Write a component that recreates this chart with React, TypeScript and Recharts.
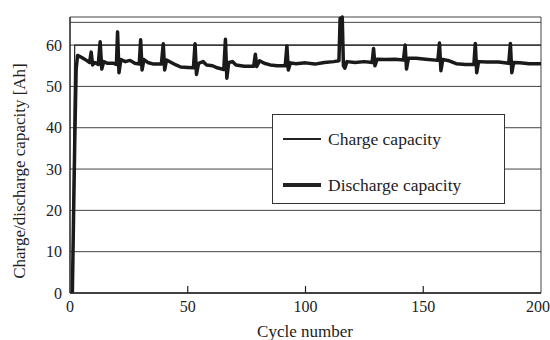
import {
  LineChart,
  Line,
  XAxis,
  YAxis,
  CartesianGrid,
  ReferenceLine,
  Legend,
} from "recharts";

const FONT = "'Liberation Serif', 'DejaVu Serif', 'Noto Serif', Tinos, serif";
const INK = "#222";

const xTicks = [0, 50, 100, 150, 200];
const yTicks = [0, 10, 20, 30, 40, 50, 60];

// charge capacity sits flat at the rated 60 Ah once cycling starts
const chargeCycles = [1, 2, 25, 50, 75, 100, 125, 150, 175, 200];
const chargeValues = [0, 60, 60, 60, 60, 60, 60, 60, 60, 60];

const dischargeCycles = [
  1, 2, 2.6, 3.2, 5, 7, 8.3, 9, 9.6, 10.5, 12, 12.8, 13.5, 14.3, 16, 18.5,
  19.7, 20.2, 20.8, 21.6, 23.5, 25.5, 27.5, 29.4, 30, 30.6, 31.4, 33, 35.5,
  38.8, 39.6, 40.2, 41, 43, 45, 47, 50, 52.4, 53.1, 53.7, 54.6, 56.5, 58, 60.5,
  62.5, 65.3, 66, 66.6, 67.4, 69, 70.5, 74, 78, 78.7, 79.3, 80.5, 82.5, 85, 88,
  91.4, 92.1, 92.7, 93.6, 96, 100, 104, 108, 112, 114.2, 114.7, 115.2, 115.6,
  116.1, 116.7, 117.6, 121, 125, 128.3, 128.9, 129.5, 130.4, 134, 138, 141.6,
  142.3, 142.9, 143.7, 147, 151, 156.2, 156.9, 157.5, 158.3, 161, 164, 168,
  171.5, 172.1, 172.7, 173.5, 177, 182, 186.3, 187, 187.6, 188.4, 191, 195, 200,
];
const dischargeValues = [
  0, 36, 54, 57.5, 57, 56.3, 55.8, 58.3, 55.2, 55.8, 55.3, 60.8, 54.2, 56, 55.6,
  55.6, 55.3, 63.2, 53.3, 56.5, 56, 56.3, 55.6, 55.4, 61.3, 54, 56.5, 55.8,
  55.4, 55.4, 60.3, 54, 56.4, 55.8, 55.2, 54.7, 54.6, 54.5, 60.3, 52.9, 55.6,
  56, 55.2, 55, 54.5, 54.1, 61.4, 52, 55.8, 56, 55.2, 54.9, 54.9, 57.8, 54.8,
  56.2, 55.6, 55.2, 55, 55, 59.8, 54, 55.7, 55.5, 55.7, 55.4, 55.8, 56, 56.2,
  66.5, 64, 66.8, 55, 54.4, 56, 55.8, 56, 55.8, 59.2, 55, 56.6, 56.5, 56.6,
  56.4, 60, 54.2, 56.8, 56.8, 56.6, 56.3, 60.5, 53.8, 56.5, 56.2, 55.5, 55.3,
  55.3, 60.4, 53.3, 56, 55.9, 55.9, 55.6, 60.4, 53.3, 55.8, 55.7, 55.5, 55.5,
];

const chargeData = chargeCycles.map((cycle, i) => ({ cycle, value: chargeValues[i] }));
const dischargeData = dischargeCycles.map((cycle, i) => ({
  cycle,
  value: dischargeValues[i],
}));

const legendItems = [
  { name: "Charge capacity", width: 1.2 },
  { name: "Discharge capacity", width: 3.5 },
];

function CycleTick(props: any) {
  const { x, y, payload } = props;
  const v = payload.value;
  return (
    <g>
      {v > 0 && v < 200 && (
        <line x1={x} x2={x} y1={y} y2={y - 7} stroke={INK} strokeWidth={1.2} />
      )}
      <text x={x} y={y + 19} textAnchor="middle" style={{ fontFamily: FONT }} fontSize={16} fill={INK}>
        {v}
      </text>
    </g>
  );
}

function LegendBox() {
  return (
    <div
      style={{
        width: 233,
        height: 90,
        border: "1px solid #333",
        background: "#fff",
        fontFamily: FONT,
        fontSize: 17.5,
        color: INK,
        boxSizing: "border-box",
        position: "relative",
      }}
    >
      {legendItems.map((item, i) => (
        <div
          key={item.name}
          style={{
            position: "absolute",
            left: 10,
            top: 24 + i * 46 - 10,
            height: 20,
            display: "flex",
            alignItems: "center",
          }}
        >
          <div style={{ width: 38, height: item.width, background: INK }} />
          <span style={{ marginLeft: 7, whiteSpace: "nowrap" }}>{item.name}</span>
        </div>
      ))}
    </div>
  );
}

export default function App() {
  return (
    <div style={{ position: "absolute", left: 0, top: 0, background: "#fff", fontFamily: FONT }}>
      <LineChart
        width={550}
        height={340}
        margin={{ top: 17, right: 9, bottom: 0, left: 0 }}
        style={{ fontFamily: FONT }}
      >
        <CartesianGrid horizontal vertical={false} stroke="#444" strokeWidth={1} />
        <XAxis
          dataKey="cycle"
          type="number"
          domain={[0, 200]}
          ticks={xTicks}
          height={47}
          tickSize={0}
          tickMargin={0}
          tickLine={false}
          tick={CycleTick}
          axisLine={{ stroke: INK, strokeWidth: 1.5 }}
          allowDuplicatedCategory={false}
          label={{
            content: () => (
              <text x={305} y={337} textAnchor="middle" style={{ fontFamily: FONT }} fontSize={17} fill={INK}>
                Cycle number
              </text>
            ),
          }}
        />
        <YAxis
          type="number"
          domain={[0, 65.5]}
          ticks={yTicks}
          width={70}
          tickSize={0}
          tickMargin={8}
          tickLine={false}
          axisLine={{ stroke: INK, strokeWidth: 1.5 }}
          tick={{ fontFamily: FONT, fontSize: 16, fill: INK }}
          label={{
            content: () => (
              <text
                transform="translate(25,171) rotate(-90)"
                textAnchor="middle"
                style={{ fontFamily: FONT }}
                fontSize={17}
                fill={INK}
              >
                Charge/discharge capacity [Ah]
              </text>
            ),
          }}
        />
        <ReferenceLine y={65.5} stroke="#444" strokeWidth={1} />
        <ReferenceLine x={200} stroke="#444" strokeWidth={1} />
        <Legend
          layout="vertical"
          align="center"
          verticalAlign="middle"
          content={() => <LegendBox />}
          wrapperStyle={{ left: 272, top: 114, width: 235, height: 92 }}
        />
        <Line
          data={chargeData}
          dataKey="value"
          name="Charge capacity"
          type="linear"
          stroke={INK}
          strokeWidth={1.2}
          dot={false}
          isAnimationActive={false}
        />
        <Line
          data={dischargeData}
          dataKey="value"
          name="Discharge capacity"
          type="linear"
          stroke="#1a1a1a"
          strokeWidth={3.5}
          strokeLinejoin="round"
          dot={false}
          isAnimationActive={false}
        />
      </LineChart>
    </div>
  );
}
